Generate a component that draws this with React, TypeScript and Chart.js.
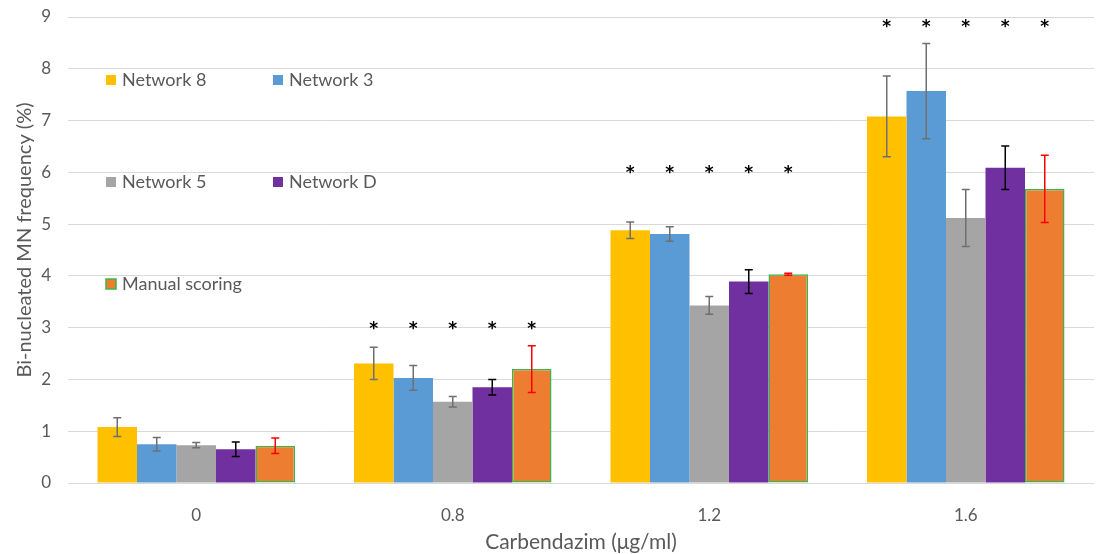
import React, { useEffect, useRef } from "react";
import { Chart, registerables } from "chart.js";

Chart.register(...registerables);

const categories = ["0", "0.8", "1.2", "1.6"];
const seriesNames = ["Network 8", "Network 3", "Network 5", "Network D", "Manual scoring"];
const network8 = [1.08, 2.31, 4.88, 7.08];
const network3 = [0.75, 2.03, 4.81, 7.57];
const network5 = [0.73, 1.57, 3.43, 5.12];
const networkD = [0.65, 1.85, 3.89, 6.09];
const manual = [0.72, 2.2, 4.03, 5.68];
const err8 = [0.18, 0.31, 0.16, 0.78];
const err3 = [0.13, 0.24, 0.14, 0.92];
const err5 = [0.05, 0.1, 0.17, 0.55];
const errD = [0.14, 0.15, 0.23, 0.42];
const errManual = [0.15, 0.45, 0.02, 0.65];
const starLevels = [null, 3.05, 6.06, 8.88];
const yTicks = [0, 1, 2, 3, 4, 5, 6, 7, 8, 9];

const seriesValues = [network8, network3, network5, networkD, manual];
const seriesErrors = [err8, err3, err5, errD, errManual];
const fillColors = ["#FFC000", "#5B9BD5", "#A5A5A5", "#7030A0", "#ED7D31"];
const errColors = ["#6f6f6f", "#6f6f6f", "#6f6f6f", "#000000", "#FF0000"];
const FONT = 'Lato, "Liberation Sans", sans-serif';
const TXT = "#595959";

const overlay = {
  id: "overlay",
  afterDatasetsDraw(chart: any) {
    const ctx = chart.ctx;
    const y = chart.scales.y;
    ctx.save();
    seriesErrors.forEach((errs, i) => {
      const meta = chart.getDatasetMeta(i);
      meta.data.forEach((bar: any, j: number) => {
        const v = seriesValues[i][j];
        const e = errs[j];
        const t = y.getPixelForValue(v + e);
        const b = y.getPixelForValue(v - e);
        ctx.strokeStyle = errColors[i];
        ctx.lineWidth = 1.5;
        ctx.beginPath();
        ctx.moveTo(bar.x, t);
        ctx.lineTo(bar.x, b);
        ctx.moveTo(bar.x - 4, t);
        ctx.lineTo(bar.x + 4, t);
        ctx.moveTo(bar.x - 4, b);
        ctx.lineTo(bar.x + 4, b);
        ctx.stroke();
      });
    });
    ctx.fillStyle = "#000";
    ctx.font = 'bold 17px "DejaVu Sans"';
    ctx.textAlign = "center";
    ctx.textBaseline = "alphabetic";
    starLevels.forEach((lvl, j) => {
      if (lvl == null) return;
      seriesValues.forEach((_, i) => {
        const bar = chart.getDatasetMeta(i).data[j];
        const py = y.getPixelForValue(lvl);
        ctx.fillText("*", bar.x, py + 9);
      });
    });
    ctx.restore();
  },
  afterDraw(chart: any) {
    const ctx = chart.ctx;
    ctx.save();
    const pos = [
      [106, 75],
      [273, 75],
      [106, 177],
      [273, 177],
      [106, 279],
    ];
    ctx.font = `18px ${FONT}`;
    ctx.textAlign = "left";
    ctx.textBaseline = "middle";
    seriesNames.forEach((name, i) => {
      const [lx, ly] = pos[i];
      ctx.fillStyle = fillColors[i];
      ctx.fillRect(lx, ly, 10, 10);
      if (i === 4) {
        ctx.strokeStyle = "#3DB54A";
        ctx.lineWidth = 1.5;
        ctx.strokeRect(lx, ly, 10, 10);
      }
      ctx.fillStyle = TXT;
      ctx.fillText(name, lx + 16, ly + 5.5);
    });
    const ca = chart.chartArea;
    ctx.font = `21px ${FONT}`;
    ctx.textAlign = "center";
    ctx.textBaseline = "middle";
    ctx.fillStyle = TXT;
    ctx.fillText("Carbendazim (μg/ml)", (ca.left + ca.right) / 2, 542);
    ctx.font = `20px ${FONT}`;
    ctx.translate(25, 240);
    ctx.rotate(-Math.PI / 2);
    ctx.fillText("Bi-nucleated MN frequency (%)", 0, 0);
    ctx.restore();
  },
};

export default function App() {
  const ref = useRef<HTMLCanvasElement>(null);
  useEffect(() => {
    document.body.style.margin = "0";
    const chart = new Chart(ref.current as HTMLCanvasElement, {
      type: "bar",
      data: {
        labels: categories,
        datasets: seriesNames.map((n, i) => ({
          label: n,
          data: seriesValues[i],
          backgroundColor: fillColors[i],
          borderColor: i === 4 ? "#3DB54A" : fillColors[i],
          borderWidth: i === 4 ? 1.5 : 0,
          borderSkipped: false,
          categoryPercentage: 0.77,
          barPercentage: 1,
        })),
      },
      options: {
        responsive: false,
        animation: false,
        layout: { padding: { top: 17, right: 2, left: 0, bottom: 0 } },
        plugins: { legend: { display: false }, tooltip: { enabled: false } },
        scales: {
          x: {
            grid: { display: false },
            border: { display: false },
            ticks: { color: TXT, font: { family: FONT, size: 17 }, padding: 14 },
            afterFit: (s: any) => {
              s.height = 71;
            },
          },
          y: {
            min: 0,
            max: 9,
            afterBuildTicks: (s: any) => {
              s.ticks = yTicks.map((v) => ({ value: v }));
            },
            grid: { color: "#d9d9d9", lineWidth: 1, drawTicks: false },
            border: { display: false },
            ticks: { color: TXT, font: { family: FONT, size: 17 }, padding: 17 },
            afterFit: (s: any) => {
              s.width = 68;
              s.paddingTop = 0;
              s.paddingBottom = 0;
            },
          },
        },
      },
      plugins: [overlay],
    });
    return () => chart.destroy();
  }, []);
  return <canvas ref={ref} width={1096} height={554} />;
}
